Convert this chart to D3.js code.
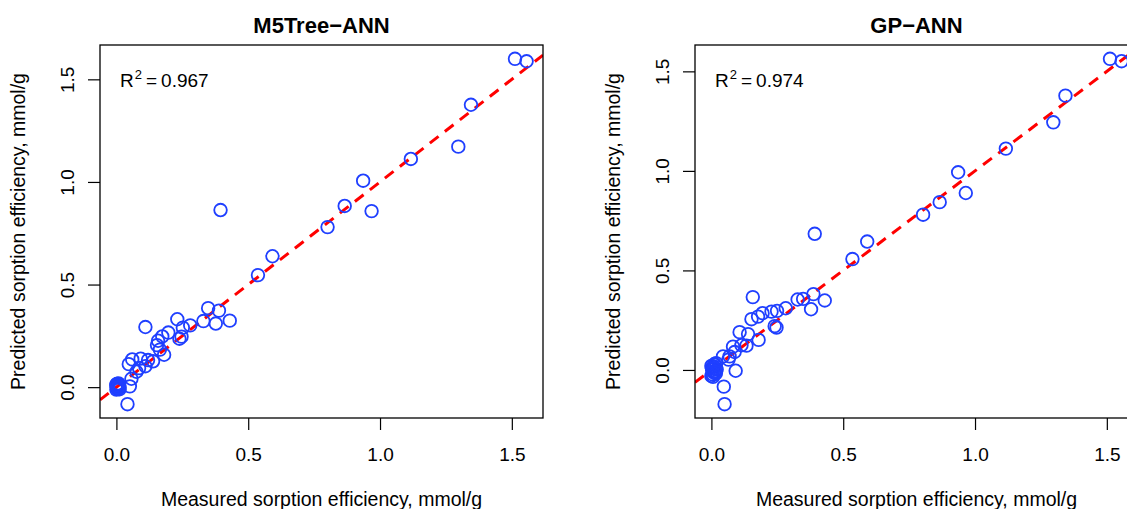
<!DOCTYPE html>
<html>
<head>
<meta charset="utf-8">
<script src="https://cdn.jsdelivr.net/npm/d3@7"></script>
<style>
  body { margin: 0; background: #fff; }
  svg { display: block; font-family: "Liberation Sans", Arial, Helvetica, sans-serif; }
  .box { fill: none; stroke: #000; stroke-width: 1.3; }
  .tick line { stroke: #000; stroke-width: 1.2; }
  .pt { fill: none; stroke: #1f3fff; stroke-width: 1.8; }
  .fit { stroke: #ff0000; stroke-width: 3; stroke-dasharray: 11 8; fill: none; }
</style>
</head>
<body>
<svg width="1127" height="509"></svg>
<script>
// panel titles and r-squared labels
const titles = ['M5Tree\u2212ANN', 'GP\u2212ANN'];
const rSquared = ['0.967', '0.974'];
const ticks = [0, 0.5, 1.0, 1.5];
const xLabel = 'Measured sorption efficiency, mmol/g';
const yLabel = 'Predicted sorption efficiency, mmol/g';

// M5Tree-ANN: measured vs predicted
const measuredM5 = [
  1.512, 1.556, 1.345, 1.297, 1.117, 0.936, 0.866, 0.968, 0.395, 0.801,
  0.592, 0.537, 0.348, 0.389, 0.430, 0.377, 0.330, 0.231, 0.280, 0.252,
  0.247, 0.239, 0.110, 0.197, 0.174, 0.158, 0.154, 0.165, 0.181, 0.139,
  0.120, 0.092, 0.060, 0.047, 0.086, 0.110, 0.076, 0.057, 0.051, 0.042,
  0.000, 0.004, 0.008, 0.012, 0.002, 0.006, 0.010, 0.000, 0.004, 0.008,
  0.012, 0.002, 0.010, 0.000, 0.006
];
const predictedM5 = [
  1.600, 1.588, 1.376, 1.172, 1.112, 1.006, 0.883, 0.858, 0.863, 0.780,
  0.638, 0.546, 0.385, 0.373, 0.324, 0.310, 0.322, 0.331, 0.301, 0.290,
  0.246, 0.236, 0.293, 0.266, 0.247, 0.226, 0.205, 0.183, 0.158, 0.126,
  0.132, 0.139, 0.135, 0.112, 0.093, 0.102, 0.075, 0.041, 0.004, -0.083,
  -0.012, -0.008, -0.004, 0.000, 0.003, 0.006, 0.009, 0.012, 0.015, 0.018,
  -0.010, 0.016, 0.004, 0.008, -0.002
];

// GP-ANN: measured vs predicted
const measuredGP = [
  1.512, 1.556, 1.343, 1.297, 1.117, 0.936, 0.965, 0.866, 0.803, 0.392,
  0.591, 0.535, 0.157, 0.387, 0.430, 0.378, 0.348, 0.327, 0.282, 0.249,
  0.228, 0.194, 0.177, 0.152, 0.240, 0.247, 0.107, 0.139, 0.179, 0.133,
  0.114, 0.082, 0.088, 0.044, 0.069, 0.065, 0.092, 0.047, 0.050,
  0.000, 0.005, 0.010, 0.015, 0.020, 0.002, 0.008, 0.013, 0.018, 0.000,
  0.006, 0.012, 0.017, 0.003, 0.010, 0.015
];
const predictedGP = [
  1.563, 1.551, 1.378, 1.244, 1.112, 0.993, 0.889, 0.843, 0.780, 0.684,
  0.645, 0.557, 0.366, 0.381, 0.349, 0.305, 0.357, 0.354, 0.310, 0.297,
  0.293, 0.285, 0.268, 0.255, 0.220, 0.213, 0.190, 0.180, 0.151, 0.122,
  0.124, 0.117, 0.090, 0.068, 0.068, 0.052, -0.004, -0.084, -0.172,
  -0.030, -0.022, -0.014, -0.006, 0.002, 0.010, 0.018, 0.026, 0.034, 0.020,
  -0.035, 0.030, -0.018, 0.000, 0.008, -0.010
];

// fitted line (intercept, slope)
const fitM5 = [0, 1];
const fitGP = [0, 1];

const panels = [
  {title: titles[0], r2: rSquared[0], xs: measuredM5, ys: predictedM5, fit: fitM5, left: 100},
  {title: titles[1], r2: rSquared[1], xs: measuredGP, ys: predictedGP, fit: fitGP, left: 695},
];

const svg = d3.select('svg');
const plotW = 443;
const plotTop = 45;
const plotBottom = 418;

// R-style range: data extent padded by 4%
function rRange(values) {
  const [lo, hi] = d3.extent(values);
  const pad = (hi - lo) * 0.04;
  return [lo - pad, hi + pad];
}

panels.forEach(function(p, i) {
  const x = d3.scaleLinear().domain(rRange(p.xs)).range([p.left, p.left + plotW]);
  const y = d3.scaleLinear().domain(rRange(p.ys)).range([plotBottom, plotTop]);
  const g = svg.append('g');

  g.append('clipPath').attr('id', 'clip' + i)
      .append('rect')
      .attr('x', p.left).attr('y', plotTop)
      .attr('width', plotW).attr('height', plotBottom - plotTop);

  // axes
  const xAxis = g.append('g')
      .attr('transform', 'translate(0,' + plotBottom + ')')
      .call(d3.axisBottom(x).tickValues(ticks).tickSize(12).tickFormat(d3.format('.1f')));
  xAxis.select('.domain').remove();
  xAxis.selectAll('text')
      .attr('y', 43).attr('dy', null)
      .attr('font-size', 19).attr('fill', '#000');

  const yAxis = g.append('g')
      .attr('transform', 'translate(' + p.left + ',0)')
      .call(d3.axisLeft(y).tickValues(ticks).tickSize(12).tickFormat(d3.format('.1f')));
  yAxis.select('.domain').remove();
  yAxis.selectAll('text')
      .attr('x', null).attr('dy', null)
      .attr('text-anchor', 'middle')
      .attr('transform', 'translate(-26,0) rotate(-90)')
      .attr('font-size', 19).attr('fill', '#000');

  // fitted line
  const xd = x.domain();
  g.append('line')
      .attr('class', 'fit')
      .attr('clip-path', 'url(#clip' + i + ')')
      .attr('x1', x(xd[0])).attr('y1', y(p.fit[0] + p.fit[1] * xd[0]))
      .attr('x2', x(xd[1])).attr('y2', y(p.fit[0] + p.fit[1] * xd[1]));

  // points
  g.append('g').attr('clip-path', 'url(#clip' + i + ')')
      .selectAll('circle')
      .data(p.xs.map(function(v, k) { return [v, p.ys[k]]; }))
      .enter().append('circle')
      .attr('class', 'pt')
      .attr('r', 6.3)
      .attr('cx', function(d) { return x(d[0]); })
      .attr('cy', function(d) { return y(d[1]); });

  g.append('rect')
      .attr('class', 'box')
      .attr('x', p.left).attr('y', plotTop)
      .attr('width', plotW).attr('height', plotBottom - plotTop);

  // labels
  g.append('text')
      .attr('x', p.left + plotW / 2).attr('y', 33)
      .attr('text-anchor', 'middle')
      .attr('font-size', 22).attr('font-weight', 'bold')
      .text(p.title);

  const r2 = g.append('text')
      .attr('x', p.left + 20).attr('y', 87)
      .attr('font-size', 19);
  r2.append('tspan').text('R');
  r2.append('tspan').attr('font-size', 13).attr('dy', -8).attr('dx', 1).text('2');
  r2.append('tspan').attr('dy', 8).attr('dx', 4).text('=');
  r2.append('tspan').attr('dx', 4).text(p.r2);

  g.append('text')
      .attr('x', p.left + plotW / 2).attr('y', 506)
      .attr('text-anchor', 'middle')
      .attr('font-size', 19.5)
      .text(xLabel);

  g.append('text')
      .attr('transform', 'translate(' + (p.left - 75) + ',' + ((plotTop + plotBottom) / 2) + ') rotate(-90)')
      .attr('text-anchor', 'middle')
      .attr('font-size', 19.5)
      .text(yLabel);
});
</script>
</body>
</html>
